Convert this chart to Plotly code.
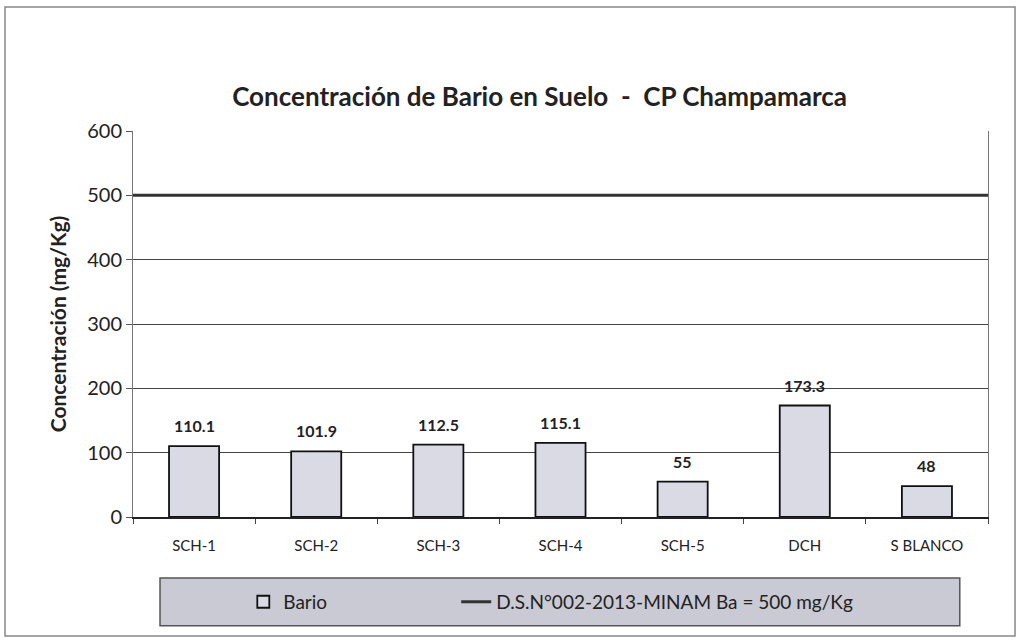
import plotly.graph_objects as go

categories = ["SCH-1", "SCH-2", "SCH-3", "SCH-4", "SCH-5", "DCH", "S BLANCO"]
bario = [110.1, 101.9, 112.5, 115.1, 55, 173.3, 48]
bario_labels = ["110.1", "101.9", "112.5", "115.1", "55", "173.3", "48"]
limit_value = 500
limit_name = "D.S.N°002-2013-MINAM Ba = 500 mg/Kg"
y_ticks = [0, 100, 200, 300, 400, 500, 600]

FONT = "Lato, 'Open Sans', sans-serif"

fig = go.Figure()
fig.add_trace(go.Bar(
    x=categories, y=bario, name="Bario", legend="legend",
    marker=dict(color="#d9dae4", line=dict(color="#111111", width=1.8)),
))
fig.add_trace(go.Scatter(
    x=[0, 1], y=[limit_value, limit_value], xaxis="x2", mode="lines",
    name=limit_name, legend="legend2", line=dict(color="#333333", width=3),
))

annotations = [
    dict(x=c, y=v, xref="x", yref="y", text=t, showarrow=False, yanchor="bottom", yshift=9,
         font=dict(family=FONT, size=16, color="#222222", weight="bold"))
    for c, v, t in zip(categories, bario, bario_labels)
]

leg_common = dict(orientation="h", xanchor="left", y=-0.22, yanchor="middle",
                  bgcolor="rgba(0,0,0,0)", font=dict(family=FONT, size=19, color="#222222"))

fig.update_layout(
    width=1020, height=641,
    margin=dict(l=133, r=32, t=131, b=124),
    paper_bgcolor="white", plot_bgcolor="white",
    bargap=0.59,
    title=dict(text="Concentración de Bario en Suelo  -  CP Champamarca",
               x=0.529, xanchor="center", y=0.849, yanchor="middle",
               font=dict(family=FONT, size=26, color="#222222", weight="bold")),
    xaxis=dict(type="category", showgrid=False, showline=True, linecolor="#222222", linewidth=1.5,
               ticks="outside", tickson="boundaries", ticklen=5, tickcolor="#444444",
               ticklabelstandoff=14,
               tickfont=dict(family=FONT, size=15, color="#222222")),
    xaxis2=dict(overlaying="x", range=[0, 1], visible=False),
    yaxis=dict(range=[0, 600], tickvals=y_ticks, showgrid=True, gridcolor="#444444", gridwidth=1,
               showline=True, linecolor="#777777", linewidth=1, mirror=True,
               ticks="outside", ticklen=6, tickcolor="#555555", zeroline=False,
               tickfont=dict(family=FONT, size=20, color="#222222"),
               title=dict(text="Concentración (mg/Kg)", standoff=14,
                          font=dict(family=FONT, size=21, color="#222222", weight="bold"))),
    legend=dict(x=0.129, **leg_common),
    legend2=dict(x=0.378, **leg_common),
    showlegend=True,
    annotations=annotations,
    shapes=[
        dict(type="rect", xref="paper", yref="paper", x0=0.0316, x1=0.967, y0=-0.282, y1=-0.158,
             fillcolor="#c9cad3", line=dict(color="#555555", width=1.5), layer="below"),
        dict(type="rect", xref="paper", yref="paper", x0=-0.1497, x1=1.0316, y0=-0.308, y1=1.321,
             line=dict(color="#888888", width=1.5), fillcolor="rgba(0,0,0,0)"),
    ],
)

fig.write_html("out.html", config={"displayModeBar": False},
               post_script="document.body.style.margin='0';")
